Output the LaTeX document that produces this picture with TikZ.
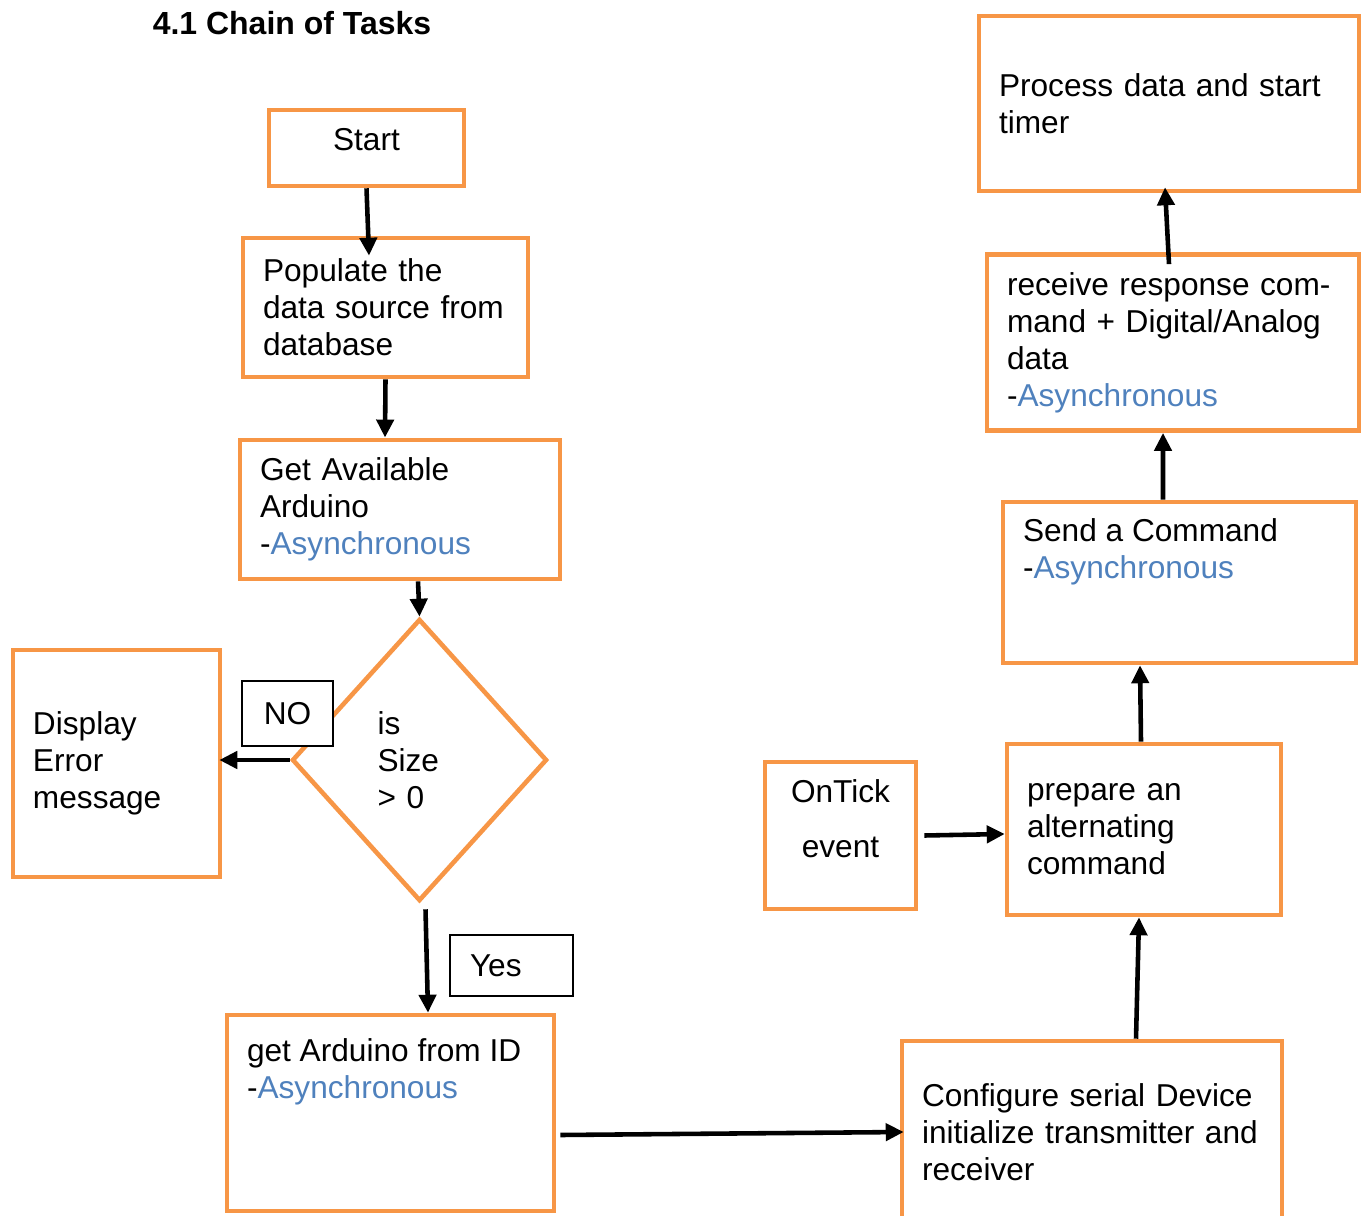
\documentclass[tikz,border=0pt]{standalone}
\usepackage{fontspec}
\setmainfont{Liberation Sans}
\usetikzlibrary{shapes.geometric, arrows.meta, positioning}

\definecolor{taskorange}{HTML}{F79646}
\definecolor{asyncblue}{HTML}{4F81BD}

\begin{document}
\begin{tikzpicture}[
        font=\fontsize{9.0pt}{10.5pt}\selectfont,
        task/.style={draw=taskorange, line width=1.3pt, inner xsep=0.20cm, inner ysep=0.18cm, align=left},
        tag/.style={draw=black, fill=white, line width=0.4pt, inner ysep=0pt},
        flow/.style={-{Triangle[length=0.18cm, width=0.17cm]}, line width=1.3pt}
    ]

        \useasboundingbox (0, 0) rectangle (13.63, -12.16);

        \node[font=\fontsize{9.1pt}{10.5pt}\selectfont\bfseries] (title) at (2.92, -0.23) {4.1 Chain of Tasks};

        % linke Spalte
        \node[task, minimum width=1.95cm, minimum height=0.76cm] (start) at (3.665, -1.48) {\parbox[t][0.40cm][t]{1.55cm}{\centering Start}};
        \node[task, minimum width=2.85cm, minimum height=1.39cm, text width=2.45cm] (populate) at (3.855, -3.075) {Populate the\\data source from\\database};
        \node[task, minimum width=3.20cm, minimum height=1.35cm, text width=2.80cm] (avail) at (4.00, -5.095) {Get Available\\Arduino\\-{\color{asyncblue}Asynchronous}};
        \node[shape=diamond, draw=taskorange, line width=1.3pt, inner sep=0pt, minimum width=2.55cm, minimum height=2.82cm, text width=0.84cm, align=left] (size) at (4.195, -7.60) {is\\Size\\> 0};
        \node[task, minimum width=2.07cm, minimum height=2.27cm, text width=1.67cm] (error) at (1.165, -7.635) {Display\\Error\\message};
        \node[task, inner ysep=0.24cm, minimum width=3.27cm, minimum height=1.96cm] (getid) at (3.905, -11.13) {\parbox[t][1.48cm][t]{2.87cm}{get Arduino from ID\\-{\color{asyncblue}Asynchronous}}};

        \node[tag, minimum width=0.91cm, minimum height=0.65cm] (no) at (2.875, -7.135) {NO};
        \node[tag, inner xsep=0.2cm, minimum height=0.61cm, text width=0.83cm, align=left] (yes) at (5.115, -9.655) {Yes};

        % rechte Spalte
        \node[task, minimum width=3.80cm, minimum height=1.82cm, text width=3.40cm] (config) at (10.92, -11.32) {Configure serial Device\\initialize transmitter and\\receiver};
        \node[task, minimum width=1.51cm, minimum height=1.47cm] (ontick) at (8.405, -8.355) {\parbox[t][1.11cm][t]{1.11cm}{\centering OnTick\\[0.18cm]event}};
        \node[task, minimum width=2.74cm, minimum height=1.71cm, text width=2.34cm] (prepare) at (11.44, -8.295) {prepare an\\alternating\\command};
        \node[task, inner ysep=0.17cm, minimum width=3.53cm, minimum height=1.61cm] (send) at (11.795, -5.825) {\parbox[t][1.27cm][t]{3.13cm}{Send a Command\\-{\color{asyncblue}Asynchronous}}};
        \node[task, minimum width=3.72cm, minimum height=1.69cm, text width=3.32cm] (receive) at (11.73, -3.425) {receive response com-\\mand + Digital/Analog\\data\\-{\color{asyncblue}Asynchronous}};
        \node[task, minimum width=3.80cm, minimum height=1.75cm, text width=3.40cm] (process) at (11.69, -1.035) {Process data and start\\timer};

        % Pfeile links
        \draw[flow] (start.south) -- ([xshift=-0.165cm, yshift=-0.2cm]populate.north);
        \draw[flow] (populate.south) -- ([xshift=-0.15cm]avail.north);
        \draw[flow] ([xshift=0.18cm]avail.south) -- (size.north);
        \draw[flow] (size.west) -- ([xshift=-0.03cm]size.west -| error.east);
        \draw[flow] ([xshift=0.06cm, yshift=-0.06cm]size.south) -- ([xshift=0.375cm]getid.north);
        \draw[flow] ([xshift=0.04cm, yshift=-0.22cm]getid.east) -- ([xshift=0.04cm]config.west);

        % Pfeile rechts
        \draw[flow] ([xshift=0.44cm]config.north) -- ([xshift=-0.05cm]prepare.south);
        \draw[flow] ([xshift=0.06cm]ontick.east) -- ([yshift=-0.045cm]prepare.west);
        \draw[flow] ([xshift=-0.03cm]prepare.north) -- ([xshift=-0.395cm]send.south);
        \draw[flow] ([xshift=-0.165cm]send.north) -- ([xshift=-0.1cm]receive.south);
        \draw[flow] ([xshift=-0.04cm, yshift=-0.12cm]receive.north) -- ([xshift=-0.04cm, yshift=0.06cm]process.south);

\end{tikzpicture}
\end{document}
